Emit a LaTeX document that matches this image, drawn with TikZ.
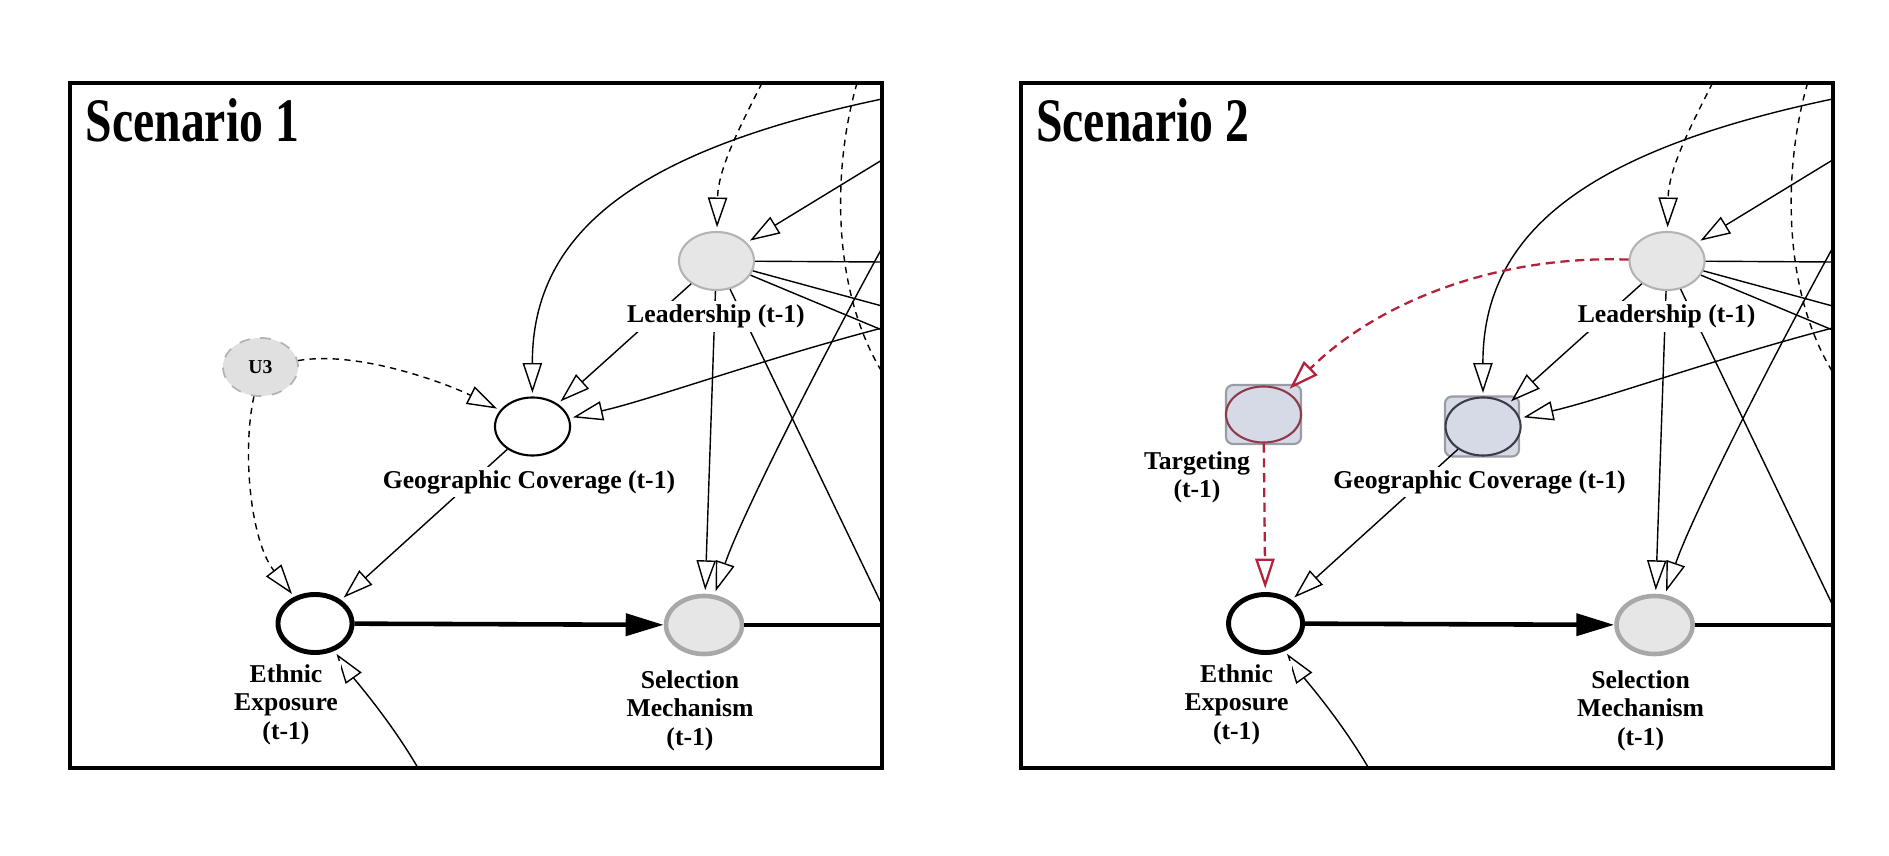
\documentclass[tikz,border=0pt]{standalone}
\usepackage{fontspec}
\setmainfont{Liberation Serif}
\usetikzlibrary{arrows.meta,shapes.geometric}

\definecolor{leadgray}{HTML}{E6E6E6}
\definecolor{latgray}{HTML}{E0E0E0}
\definecolor{rimgray}{HTML}{B4B4B4}
\definecolor{selrim}{HTML}{A8A8A8}
\definecolor{boxblue}{HTML}{D6DAE6}
\definecolor{boxrim}{HTML}{9A9CA4}
\definecolor{georim}{HTML}{3C3C48}
\definecolor{tred}{HTML}{B3223A}
\definecolor{tredrim}{HTML}{8E3A4B}

\begin{document}
\begin{tikzpicture}[x=0.01cm,y=-0.01cm,
    >={Triangle[open,length=8.5pt,width=5.5pt]},
    var/.style={ellipse,draw,inner sep=0pt,minimum width=0.75cm,minimum height=0.58cm},
    lead node/.style={var,fill=leadgray,draw=rimgray,line width=0.6pt},
    treat node/.style={var,fill=white,line width=1.4pt,minimum width=0.74cm},
    sel node/.style={var,fill=leadgray,draw=selrim,line width=1.3pt,minimum width=0.76cm},
    latent node/.style={var,fill=latgray,draw=rimgray,dashed,line width=0.5pt,
      font=\bfseries\fontsize{5.6}{6}\selectfont},
    panel frame/.style={line width=1.1pt},
    panel box/.style={draw=boxrim,fill=boxblue,rounded corners=2pt,line width=0.6pt,
      inner sep=0pt,minimum width=0.74cm,minimum height=0.6cm},
    lab/.style={fill=white,inner sep=1pt,align=center,font=\bfseries\fontsize{7.3}{8.1}\selectfont},
    dep/.style={->,shorten >=1pt,line width=0.4pt},
    hid/.style={dep,dash pattern=on 1.8pt off 1.5pt},
    path link/.style={-{Triangle[length=10.8pt,width=6.2pt]},line width=1.3pt},
    tlink/.style={dep,draw=tred,line width=0.65pt,dash pattern=on 2.6pt off 1.6pt}]

  \useasboundingbox (0,0) rectangle (1889,855);

  % boxes behind the nodes of scenario 2
  \node[panel box] (geobox) at (1482,426.5) {};
  \node[panel box,minimum width=0.75cm,minimum height=0.59cm] (targbox) at (1263.5,414.5) {};

  \foreach \p/\ox/\gfill/\grim in {1/0/white/black,2/9.5/boxblue/georim}{
  \begin{scope}[xshift=\ox cm]
    \draw[panel frame] (70,83) rectangle (882,768);
    \node[anchor=base west,inner sep=0pt,font=\bfseries\fontsize{17.6}{18}\selectfont]
      (title\p) at (85,142) {\scalebox{0.77}[1]{Scenario \p}};

    \node[lead node] (lead\p) at (716.5,261) {};
    \node[var,fill=\gfill,draw=\grim,line width=0.6pt] (geo\p) at (532.5,426.5) {};
    \node[treat node] (eth\p) at (315,623.5) {};
    \node[sel node] (sel\p) at (704,625) {};

    % ends at the panel edge
    \coordinate (arcin\p) at (882,99);
    \coordinate (ldin\p) at (762,83);
    \coordinate (rin\p) at (882,160);
    \coordinate (louta\p) at (882,262);
    \coordinate (loutb\p) at (882,306);
    \coordinate (loutc\p) at (882,330);
    \coordinate (gin\p) at (882,328);
    \coordinate (sin\p) at (882,248);
    \coordinate (ldown\p) at (882,605);
    \coordinate (selout\p) at (882,625);
    \coordinate (dtop\p) at (857,83);
    \coordinate (dbot\p) at (882,372);
    \coordinate (ebot\p) at (418,768);

    \draw[path link] (eth\p) -- (sel\p);
    \draw[line width=1.3pt] (sel\p) -- (selout\p);
    \draw[dep] (geo\p) -- (eth\p);
    \draw[dep] (lead\p) -- (geo\p);
    \draw[dep] (arcin\p) .. controls (640,150) and (532,230) .. (geo\p);
    \draw[hid] (ldin\p) .. controls (738,130) and (718,170) .. (lead\p);
    \draw[dep] (rin\p) -- (lead\p);
    \draw (lead\p) -- (louta\p);
    \draw (lead\p) -- (loutb\p);
    \draw (lead\p) -- (loutc\p);
    \draw[dep] (gin\p) .. controls (760,360) and (650,400) .. (geo\p);
    \draw[dep] (lead\p) -- (sel\p);
    \draw[dep] (sin\p) .. controls (810,380) and (740,520) .. (sel\p);
    \draw (lead\p) -- (ldown\p);
    \draw[dash pattern=on 1.8pt off 1.5pt] (dtop\p) .. controls (832,170) and (832,290) .. (dbot\p);
    \draw[dep] (ebot\p) .. controls (390,720) and (355,680) .. (eth\p);

    \node[lab] (leadlab\p) at (716,316.5) {Leadership (t-1)};
    \node[lab] (geolab\p) at (529,482) {Geographic Coverage (t-1)};
    \node[lab,anchor=north] (ethlab\p) at (286,660) {Ethnic\\Exposure\\(t-1)};
    \node[lab,anchor=north] (sellab\p) at (690,666) {Selection\\Mechanism\\(t-1)};
  \end{scope}
  }

  % scenario 1: unobserved confounder
  \node[latent node] (u3) at (260.5,367) {U3};
  \draw[hid] (u3) .. controls (360,350) and (450,385) .. (geo1);
  \draw[hid] (u3) .. controls (242,450) and (250,540) .. (eth1);

  % scenario 2: targeting
  \node[var,draw=tredrim,line width=0.6pt,minimum height=0.56cm] (targ) at (1263.5,414.5) {};
  \draw[tlink] (lead2) .. controls (1500,255) and (1380,300) .. (targ);
  \draw[tlink] (targ) -- (eth2);
  \node[lab,anchor=north] (targlab) at (1197,447) {Targeting\\(t-1)};

\end{tikzpicture}
\end{document}
